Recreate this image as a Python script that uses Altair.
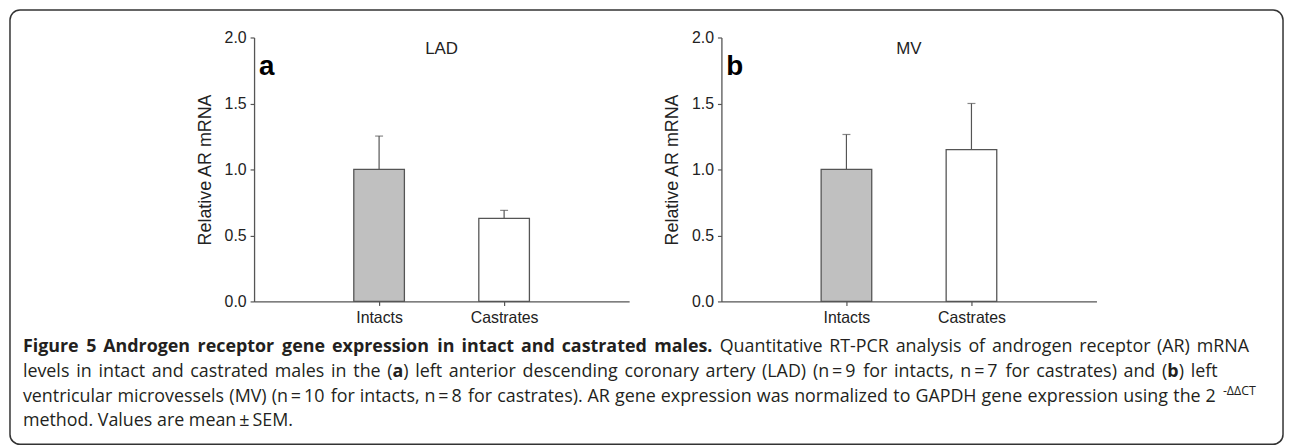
import altair as alt
import pandas as pd

# ---- data ----
categories = ["Intacts", "Castrates"]
lad_mean = [1.0, 0.63]
lad_upper = [1.253, 0.69]
mv_mean = [1.0, 1.15]
mv_upper = [1.265, 1.50]
bar_fills = ["#c0c0c0", "#ffffff"]
y_ticks = [0.0, 0.5, 1.0, 1.5, 2.0]

AX = "#555555"
TXT = "#222222"
CAP = "#231f20"
FONT = "Liberation Sans"
CFONT = "Open Sans"
W, H = 378, 266

one = pd.DataFrame({"k": [0]})


def panel(mean, upper, name, letter):
    df = pd.DataFrame({"cat": categories, "mean": mean, "upper": upper})
    xenc = alt.X(
        "cat:N",
        scale=alt.Scale(type="point", domain=categories, padding=1),
        axis=alt.Axis(
            title=None, labelAngle=0, labelFont=FONT, labelFontSize=16,
            labelColor=TXT, labelPadding=4, tickSize=4, tickColor=AX,
            domainColor=AX, domainWidth=1.3, tickWidth=1.2, grid=False,
        ),
    )
    yenc = alt.Y(
        "mean:Q",
        scale=alt.Scale(domain=[0, 2], nice=False, zero=True),
        axis=alt.Axis(
            values=y_ticks, format=".1f", title="Relative AR mRNA",
            titleFont=FONT, titleFontSize=18, titleFontWeight="normal",
            titleColor=TXT, titlePadding=10, labelFont=FONT, labelFontSize=16,
            labelColor=TXT, labelPadding=4, tickSize=4, tickColor=AX,
            domainColor=AX, domainWidth=1.3, tickWidth=1.2, grid=False,
        ),
    )
    base = alt.Chart(df)
    err = base.mark_rule(color=AX, strokeWidth=1.2).encode(
        x=xenc, y=yenc, y2="upper:Q"
    )
    cap = base.mark_tick(size=8, thickness=1.2, color=AX).encode(
        x="cat:N", y="upper:Q"
    )
    bars = base.mark_bar(size=51, stroke=AX, strokeWidth=1.3).encode(
        x="cat:N",
        y="mean:Q",
        fill=alt.Fill(
            "cat:N",
            scale=alt.Scale(domain=categories, range=bar_fills),
            legend=None,
        ),
    )
    title = alt.Chart(one).mark_text(
        font=FONT, fontSize=17, color=TXT, align="center", baseline="alphabetic"
    ).encode(x=alt.value(W / 2), y=alt.value(17), text=alt.value(name))
    let = alt.Chart(one).mark_text(
        font=FONT, fontSize=28, fontWeight="bold", color="#000000",
        align="left", baseline="alphabetic",
    ).encode(x=alt.value(5), y=alt.value(38), text=alt.value(letter))
    return [err, cap, bars, title, let]


# ---- caption ----
CSIZE = 18
SUPSIZE = 12.5
CW = {
    "a": .556, "b": .613, "c": .479, "d": .613, "e": .561, "f": .336, "g": .546,
    "h": .613, "i": .258, "j": .258, "k": .529, "l": .258, "m": .929, "n": .613,
    "o": .601, "p": .613, "q": .613, "r": .408, "s": .477, "t": .352, "u": .613,
    "v": .502, "w": .774, "x": .523, "y": .502, "z": .468,
    "A": .633, "B": .647, "C": .631, "D": .729, "E": .556, "F": .516, "G": .722,
    "H": .738, "I": .279, "L": .519, "M": .907, "N": .764, "P": .602, "R": .618,
    "S": .549, "T": .553, "V": .580, "Q": .778, "O": .778,
    "(": .296, ")": .296, ".": .267, ",": .249, "-": .322, "=": .572,
    "\u00b1": .572, "\u0394": .63, "\u2009": .2, " ": .26,
}
CWB = {
    "a": .600, "b": .640, "c": .530, "d": .640, "e": .600, "f": .400, "g": .560,
    "h": .660, "i": .310, "l": .310, "m": .980, "n": .660, "o": .630, "p": .640,
    "r": .460, "s": .510, "t": .430, "u": .660, "v": .580, "x": .600, "y": .580,
    "A": .700, "F": .580, "5": .572, ".": .290,
}


def fsize(style):
    return SUPSIZE if style == "sup" else CSIZE


def wlen(s, style):
    if style == "b":
        return sum(CWB.get(c, CW.get(c, .6) * 1.07) for c in s) * CSIZE
    return sum(CW.get(c, .572) for c in s) * fsize(style)


def txt(s, x, y, style="r"):
    return alt.Chart(one).mark_text(
        font=CFONT, fontSize=fsize(style),
        fontWeight="bold" if style == "b" else "normal",
        color=CAP, align="left", baseline="alphabetic",
    ).encode(x=alt.value(round(x, 1)), y=alt.value(y), text=alt.value(s))


def B(w):
    return [(w, "b")]


def R(w):
    return [(w, "r")]


TS = "\u2009"
line1 = [B(w) for w in "Figure 5 Androgen receptor gene expression in intact and castrated males.".split(" ")] + \
        [R(w) for w in "Quantitative RT-PCR analysis of androgen receptor (AR) mRNA".split(" ")]
line2 = [R(w) for w in "levels in intact and castrated males in the".split(" ")] + \
        [[("(", "r"), ("a", "b"), (")", "r")]] + \
        [R(w) for w in f"left anterior descending coronary artery (LAD) (n{TS}={TS}9 for intacts, n{TS}={TS}7 for castrates) and".split(" ")] + \
        [[("(", "r"), ("b", "b"), (")", "r")]] + [R("left")]
line3 = [R(w) for w in (f"ventricular microvessels (MV) (n{TS}={TS}10 for intacts, n{TS}={TS}8 for castrates). "
                        "AR gene expression was normalized to GAPDH gene expression using the").split(" ")] + \
        [[("2", "r"), (TS, "r"), (TS, "r"), ("-\u0394\u0394CT", "sup")]]

ORIGIN_X = 255
START = 22 - ORIGIN_X
L1, L2, L3, L4 = 317, 342, 367, 392


def justify(words, y, end_page):
    end = end_page - ORIGIN_X
    marks = []
    widths = [sum(wlen(t, s) for t, s in w) for w in words]
    gap = (end - START - sum(widths)) / (len(words) - 1)
    x = START
    for w, wd in zip(words, widths):
        off = 0.0
        for t, s in w:
            if t.strip():
                marks.append(txt(t, x + off, y - 7 if s == "sup" else y, s))
            off += wlen(t, s)
        x += wd + gap
    return marks


caption = justify(line1, L1, 1258) + justify(line2, L2, 1226) + justify(line3, L3, 1266) + [
    txt(f"method. Values are mean{TS}\u00b1{TS}SEM.", START, L4)
]

frame = alt.Chart(one).mark_rect(
    cornerRadius=10, fillOpacity=0, stroke="#333333", strokeWidth=1.5
).encode(
    x=alt.value(-246), x2=alt.value(1037), y=alt.value(-27.7), y2=alt.value(410)
)

panel_a = alt.layer(frame, *caption, *panel(lad_mean, lad_upper, "LAD", "a")).properties(
    width=W, height=H
)
panel_b = alt.layer(*panel(mv_mean, mv_upper, "MV", "b")).properties(width=W, height=H)

chart = (
    alt.hconcat(panel_a, panel_b, spacing=93, bounds="flush")
    .resolve_scale(fill="independent")
    .properties(padding={"left": 0, "top": -1, "right": 0, "bottom": 0}, background="white")
    .configure_view(stroke="transparent")
)

chart.save("out.html", embed_options={"renderer": "svg", "actions": False})
